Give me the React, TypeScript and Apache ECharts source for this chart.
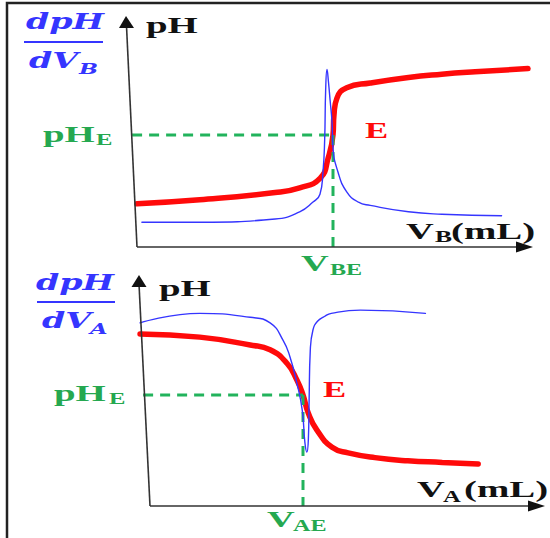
import React, { useEffect, useRef } from "react";
import * as echarts from "echarts";

// Equivalence point values (mL, pH)
const VE = 20;
const PHE = 7;

// Top panel: base added to acid (pH vs V_B) and dpH/dV_B
const topRedV = [0, 6.4, 14.1, 16.6, 18.7, 19.5, 20.0, 20.1, 20.4, 21.4, 23.8, 27.7, 31.1, 34.5, 39.9];
const topRedPH = [2.7, 2.95, 3.4, 3.7, 4.3, 5.55, 7.0, 8.25, 9.3, 9.95, 10.25, 10.6, 10.8, 10.95, 11.15];
const topBlueV = [0.5, 6.4, 14.1, 16.6, 17.96, 18.67, 18.98, 19.15, 19.25, 19.39, 19.54, 19.7, 19.9, 20.0, 20.5, 21.4, 22.6, 23.8, 27.7, 31.1, 37.2];
const topBlueD = [1.55, 1.55, 1.75, 2.2, 2.81, 3.3, 4.7, 6.7, 9.8, 11.1, 10.3, 9.2, 7.8, 6.2, 4.7, 3.45, 2.8, 2.6, 2.2, 2.05, 1.95];

// Bottom panel: acid added to base (pH vs V_A) and dpH/dV_A
const botRedV = [-1.3, 6.5, 13.1, 15.7, 17.9, 19.2, 20.0, 20.7, 21.8, 23.8, 25.9, 29.4, 33.7, 38.2, 42.9];
const botRedPH = [10.85, 10.65, 10.15, 9.85, 9.0, 7.95, 7.0, 5.85, 4.8, 3.7, 3.35, 3.05, 2.85, 2.75, 2.65];
const botBlueV = [-1.3, 6.5, 13.1, 15.7, 17.4, 18.3, 19.2, 19.9, 20.25, 20.5, 20.7, 20.8, 20.95, 21.3, 21.9, 22.8, 23.7, 27.5, 36.0];
const botBlueD = [11.55, 12.15, 11.9, 11.55, 10.45, 9.4, 7.75, 6.05, 4.0, 3.4, 4.2, 6.7, 9.8, 11.1, 11.65, 11.95, 12.15, 12.35, 12.15];

const RED = "#ff0a0a";
const BLUE = "#3535ff";
const GREEN = "#22b35c";
const GREEN_TXT = "#25a850";
const AXIS = "#333333";

const zip = (a: number[], b: number[]) => a.map((v, i) => [v, b[i]]);

const txt = (
  text: string,
  x: number,
  y: number,
  fill: string,
  size: number,
  sx: number,
  italic = false
) => ({
  type: "text",
  x,
  y,
  scaleX: sx,
  z: 10,
  style: {
    text,
    x: 0,
    y: 0,
    fill,
    fontSize: size,
    fontWeight: "bold",
    fontStyle: italic ? "italic" : "normal",
    fontFamily: italic ? "DejaVu Serif" : "Liberation Serif",
    textAlign: "left",
    textVerticalAlign: "middle",
  },
});

const line = (x1: number, y1: number, x2: number, y2: number, color: string, w: number) => ({
  type: "line",
  z: 5,
  shape: { x1, y1, x2, y2 },
  style: { stroke: color, lineWidth: w },
});

const arrow = (pts: number[][]) => ({
  type: "polygon",
  z: 5,
  shape: { points: pts },
  style: { fill: "#111" },
});

export default function App() {
  const ref = useRef<HTMLDivElement>(null);
  useEffect(() => {
    if (!ref.current) return;
    const chart = echarts.init(ref.current, null, { renderer: "svg" });

    const dashed = (gi: number, data: number[][]) => ({
      type: "line",
      xAxisIndex: gi,
      yAxisIndex: gi,
      data,
      showSymbol: false,
      silent: true,
      z: 3,
      lineStyle: { color: GREEN, width: 3, type: [10, 7] },
    });
    const curve = (gi: number, data: number[][], color: string, width: number, z: number) => ({
      type: "line",
      xAxisIndex: gi,
      yAxisIndex: gi,
      data,
      showSymbol: false,
      smooth: 0.5,
      silent: true,
      z,
      lineStyle: { color, width, cap: "round", join: "round" },
    });

    const option: any = {
      animation: false,
      backgroundColor: "#ffffff",
      grid: [
        { left: 127.2, top: 23, width: 401.8, height: 224 },
        { left: 134.7, top: 284, width: 359.55, height: 222 },
      ],
      xAxis: [
        { type: "value", gridIndex: 0, min: -1, max: 40, show: false },
        { type: "value", gridIndex: 1, min: -2, max: 45, show: false },
      ],
      yAxis: [
        { type: "value", gridIndex: 0, min: 0, max: 14, show: false },
        { type: "value", gridIndex: 1, min: 0, max: 14, show: false },
      ],
      series: [
        curve(0, zip(topRedV, topRedPH), RED, 5.5, 1),
        dashed(0, [[-0.5, PHE], [VE, PHE]]),
        dashed(0, [[VE, PHE], [VE, 0]]),
        curve(0, zip(topBlueV, topBlueD), BLUE, 1.4, 4),
        curve(1, zip(botRedV, botRedPH), RED, 5.5, 1),
        dashed(1, [[-0.9, PHE], [VE, PHE]]),
        dashed(1, [[VE, PHE], [VE, 0]]),
        curve(1, zip(botBlueV, botBlueD), BLUE, 1.4, 4),
      ],
      graphic: [
        // frame
        {
          type: "rect",
          z: 1,
          shape: { x: 7, y: 3, width: 560, height: 560 },
          style: { fill: "none", stroke: "#222", lineWidth: 2.5 },
        },
        // top axes
        line(137, 247, 126.5, 26, AXIS, 1.6),
        arrow([[126, 16], [119, 28], [134, 28]]),
        line(137, 247, 522, 247, AXIS, 1.6),
        arrow([[533, 247], [516, 241.5], [516, 252.5]]),
        // bottom axes
        line(150, 506, 139, 284, AXIS, 1.6),
        arrow([[139, 275], [131.5, 287], [146.5, 287]]),
        line(150, 506, 534, 506, AXIS, 1.6),
        arrow([[545, 506], [528, 500.5], [528, 511.5]]),

        // top labels
        txt("dpH", 26, 21, BLUE, 23, 1.45, true),
        line(24, 42, 103, 42, BLUE, 2),
        txt("dV", 29, 60, BLUE, 23, 1.45, true),
        txt("B", 79, 69, BLUE, 15, 1.5, true),
        txt("pH", 146, 25, "#111", 24, 1.62),
        txt("pH", 43, 134, GREEN_TXT, 24, 1.62),
        txt("E", 96, 139, GREEN_TXT, 17, 1.45),
        txt("E", 365, 130, RED, 24, 1.45),
        txt("V", 406, 231, "#111", 24, 1.6),
        txt("B", 435, 237, "#111", 17, 1.5),
        txt("(mL)", 451, 231, "#111", 24, 1.62),
        txt("V", 301, 263, GREEN_TXT, 24, 1.6),
        txt("BE", 330, 269, GREEN_TXT, 17, 1.42),

        // bottom labels
        txt("dpH", 36, 282, BLUE, 23, 1.45, true),
        line(37, 302, 115, 302, BLUE, 2),
        txt("dV", 42, 320, BLUE, 23, 1.45, true),
        txt("A", 90, 329, BLUE, 15, 1.5, true),
        txt("pH", 159, 288, "#111", 24, 1.62),
        txt("pH", 54, 393, GREEN_TXT, 24, 1.62),
        txt("E", 109, 398, GREEN_TXT, 17, 1.45),
        txt("E", 323, 389, RED, 24, 1.45),
        txt("V", 417, 489, "#111", 24, 1.6),
        txt("A", 443, 496, "#111", 17, 1.45),
        txt("(mL)", 464, 489, "#111", 24, 1.62),
        txt("V", 267, 519, GREEN_TXT, 24, 1.6),
        txt("AE", 293, 525, GREEN_TXT, 17, 1.42),
      ],
    };
    chart.setOption(option);
    return () => chart.dispose();
  }, []);

  return (
    <div
      ref={ref}
      style={{ position: "absolute", left: 0, top: 0, width: 550, height: 538 }}
    />
  );
}
